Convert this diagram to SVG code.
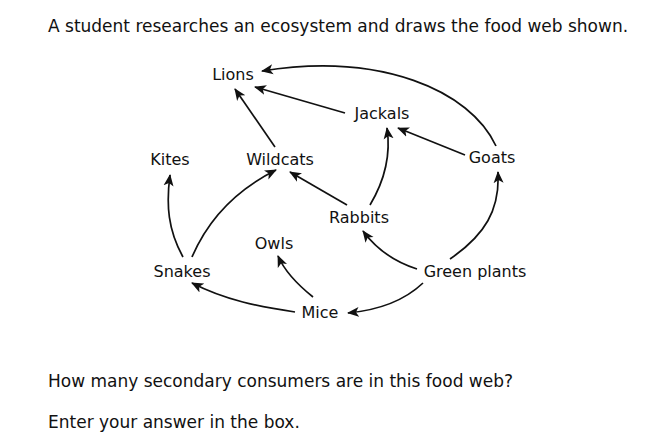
<svg xmlns="http://www.w3.org/2000/svg" width="650" height="441" viewBox="0 0 650 441">
<style>
text{font-family:"DejaVu Sans",Verdana,sans-serif;font-size:16px;fill:#111}
.body{font-size:17px}
.n text{text-anchor:middle}
#connectors path{fill:none;stroke:#111;stroke-width:1.7;marker-end:url(#ah)}
</style>
<defs>
<marker id="ah" markerUnits="userSpaceOnUse" markerWidth="14" markerHeight="12" viewBox="0 0 14 12" refX="11" refY="6" orient="auto">
<path d="M0,1 L12,6 L0,11 L3,6 z" fill="#111"/>
</marker>
</defs>
<rect width="650" height="441" fill="#fff"/>
<text class="body" x="48" y="32">A student researches an ecosystem and draws the food web shown.</text>
<g id="connectors">
<path d="M496,146 C470,90 380,52 262,71"/>
<path d="M345,113 L255,87"/>
<path d="M275,147 L235,89"/>
<path d="M465,155 L398,128"/>
<path d="M370,205 C385,180 391,155 387,128"/>
<path d="M347,205 L290,172"/>
<path d="M192,257 C210,215 240,188 276,170"/>
<path d="M183,257 C168,230 166,205 170,175"/>
<path d="M450,259 C485,235 500,210 498,172"/>
<path d="M417,269 C395,262 377,250 363,231"/>
<path d="M423,283 C405,300 380,310 348,313"/>
<path d="M313,297 C298,285 285,272 278,256"/>
<path d="M295,312 C260,307 225,300 192,283"/>
</g>
<g class="n" id="lions"><text x="233" y="80">Lions</text></g>
<g class="n" id="jackals"><text x="382" y="119">Jackals</text></g>
<g class="n" id="kites"><text x="170" y="165">Kites</text></g>
<g class="n" id="wildcats"><text x="280" y="165">Wildcats</text></g>
<g class="n" id="goats"><text x="492" y="163">Goats</text></g>
<g class="n" id="rabbits"><text x="359" y="223">Rabbits</text></g>
<g class="n" id="owls"><text x="274" y="249">Owls</text></g>
<g class="n" id="snakes"><text x="182" y="277">Snakes</text></g>
<g class="n" id="greenplants"><text x="475" y="277">Green plants</text></g>
<g class="n" id="mice"><text x="320" y="318">Mice</text></g>
<text class="body" x="48" y="387">How many secondary consumers are in this food web?</text>
<text class="body" x="48" y="428">Enter your answer in the box.</text>
</svg>
